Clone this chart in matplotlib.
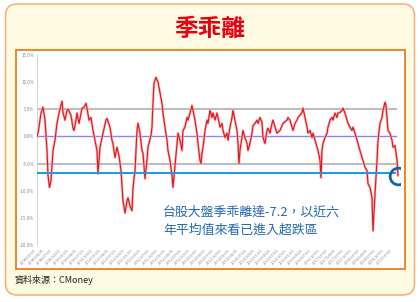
import numpy as np
import pandas as pd
import matplotlib
matplotlib.use("Agg")
import matplotlib.pyplot as plt
from matplotlib.patches import FancyBboxPatch, Rectangle

plt.rcParams['font.family'] = ['Noto Sans CJK TC', 'DejaVu Sans']

# sample position along the time axis and quarterly deviation (%)
t = [0, 1.5, 4, 6, 8, 10, 11, 12.5, 14, 16, 18, 20, 22, 25, 26, 28, 30, 31, 34, 36,
     37, 39, 40, 42, 45, 47, 49, 50, 52, 54, 56, 58, 60, 61, 63, 66, 69, 70, 73, 75,
     76, 78, 80, 82, 84, 86, 88, 90, 91, 93, 95, 96, 98, 100, 101, 103, 105, 106, 108, 110,
     111, 114, 115, 116, 117, 119, 121, 123, 125, 126, 128, 130, 131, 133, 135, 136, 138, 140, 141, 143,
     145, 146, 148, 150, 151, 153, 155, 156, 158, 160, 161, 163, 164, 165, 166, 168, 170, 171, 173, 175,
     176, 178, 180, 181, 183, 185, 186, 188, 190, 191, 193, 195, 196, 198, 200, 201, 202, 203, 205, 206,
     208, 210, 211, 213, 215, 216, 218, 220, 221, 223, 225, 226, 228, 230, 231, 233, 235, 236, 238, 240,
     243, 246, 250, 251, 253, 255, 256, 258, 260, 261, 263, 265, 266, 268, 270, 271, 273, 275, 276, 278,
     280, 281, 283, 284, 285, 286, 288, 290, 291, 293, 295, 296, 298, 300, 301, 303, 305, 306, 308, 310,
     311, 313, 315, 316, 318, 320, 321, 323, 325, 326, 328, 330, 331, 333, 335, 336, 338, 340, 341, 343,
     345, 346, 348, 349, 350, 351, 353, 355, 356, 358, 360, 361]
dev = [-0.1, 1.1, 4.3, 5.4, 3.0, -2.6, -7.2, -9.4, -8.1, -2.6, -0.7, 2.4, 4.3, 6.5, 4.4, 3.0, 4.8, 5.0, 3.9, 1.5,
       1.1, 3.0, 4.3, 2.4, 5.2, 5.4, 6.1, 5.2, 3.0, 3.5, 1.1, -0.7, -2.6, -6.9, -2.0, 0.6, 3.0, 3.3, 1.7, -0.7,
       -1.3, -3.9, -2.0, -3.5, -6.3, -11.9, -14.1, -11.9, -11.3, -12.8, -13.7, -9.4, -6.3, 1.1, 2.4, 0.6, -2.6, -3.1, -7.8, -4.4,
       -2.0, 0.2, 1.7, 6.1, 9.8, 10.9, 10.0, 8.0, 6.1, 4.3, 1.7, -0.7, -2.6, -4.4, -7.2, -9.4, -5.4, -1.3, 0.6, -0.7,
       -2.6, 1.1, 1.7, 3.5, 3.0, 4.3, 5.7, 4.8, 3.0, 0.6, -1.3, -4.4, -5.0, -3.1, -2.0, 1.1, 3.0, 2.4, 4.8, 3.5,
       4.3, 3.0, 4.3, 3.5, 1.7, 2.4, 1.1, -0.2, 0.6, -0.7, 1.7, 3.5, 4.8, 3.0, 1.1, -1.3, -5.0, -2.6, -0.2, 1.1,
       -0.2, -1.3, -2.6, -1.3, 0.6, 2.0, 2.4, 3.0, 2.4, 3.5, 2.6, -0.2, -1.3, 1.1, 1.5, 0.6, 2.4, 3.0, 1.7, 0.6,
       1.1, 2.4, 3.0, 3.5, 3.0, 1.7, 1.1, 2.4, 3.0, 3.5, 3.9, 4.4, 5.2, 3.5, 1.7, 0.6, 1.1, -0.2, 0.6, -0.7,
       -2.0, -2.6, -4.4, -7.6, -2.6, -1.3, -0.2, 0.6, 1.7, 3.0, 3.5, 3.0, 4.3, 3.5, 4.3, 4.4, 4.8, 5.2, 4.3, 3.0,
       2.4, 1.7, 1.1, 1.7, 0.6, -0.7, -1.3, -2.6, -3.9, -4.4, -5.7, -6.3, -8.7, -9.4, -11.3, -17.4, -10.6, -4.4, -0.7, 2.4,
       3.5, 4.8, 6.3, 5.7, 3.5, 1.1, 0.6, -0.7, -2.0, -1.7, -4.4, -7.2]

yticks = [15, 10, 5, 0, -5, -10, -15, -20]
band = [5, -5]
six_year_avg = -6.8
tick_labels = [d.strftime('%Y/%m/%d') for d in pd.date_range('2008-01-01', periods=45, freq='QS')]

title = '季乖離'
note = ['台股大盤季乖離達-7.2，以近六', '年平均值來看已進入超跌區']
source = '資料來源：CMoney'

fig = plt.figure(figsize=(4.2, 3.02), dpi=100)

# frame drawn in pixel space
bg = fig.add_axes([0, 0, 1, 1])
bg.set_xlim(0, 420)
bg.set_ylim(302, 0)
bg.axis('off')
bg.add_patch(FancyBboxPatch((5.5, 4), 409, 291, boxstyle='round,pad=0,rounding_size=12',
                            fc='#fffbe2', ec='#f6b27c', lw=1.2))
bg.add_patch(Rectangle((15.5, 49.5), 389.5, 219.5, fc='white', ec='#f27a1c', lw=1.3))
bg.text(210, 29, title, color='#e60012', fontsize=17, fontweight='bold', ha='center', va='center')
bg.text(15, 280, source, fontsize=6.5, ha='left', va='center', color='#222222')
bg.text(163, 212, note[0], color='#2369b0', fontsize=9.3, fontweight='medium', va='center')
bg.text(163, 230, note[1], color='#2369b0', fontsize=9.3, fontweight='medium', va='center')

ax = fig.add_axes([37 / 420, 1 - 245 / 302, 363 / 420, 190 / 302])
ax.patch.set_visible(False)
ax.set_xlim(0, 363)
ax.set_ylim(-20, 15)
for s in ['top', 'right', 'bottom']:
    ax.spines[s].set_visible(False)
ax.spines['left'].set_color('#d6d6d6')

for b in band:
    ax.axhline(b, xmax=0.99, color='#bdbdbd', lw=1.5, zorder=1)
ax.axhline(0, xmax=0.99, color='#8585ff', lw=1.0, zorder=1)

ax.plot(t, dev, color='#f7b3b3', lw=1.8, zorder=2)
ax.plot(t, dev, color='#e2141c', lw=0.8, zorder=3)
ax.axhline(six_year_avg, xmax=0.985, color='#1c9ae0', lw=1.4, zorder=4)
ax.plot(t[-1], dev[-1], 'o', ms=12, mfc='none', mec='#17619f', mew=2, zorder=5)

ax.set_yticks(yticks)
ax.set_yticklabels([f'{v:.1f}%' for v in yticks], fontsize=3.2, color='#888888')
ax.set_xticks(np.linspace(0, 356, len(tick_labels)))
ax.set_xticklabels(tick_labels, rotation=45, ha='right', fontsize=2.8, color='#888888')
ax.tick_params(length=0, pad=2)

fig.savefig('out.png', dpi=100)
